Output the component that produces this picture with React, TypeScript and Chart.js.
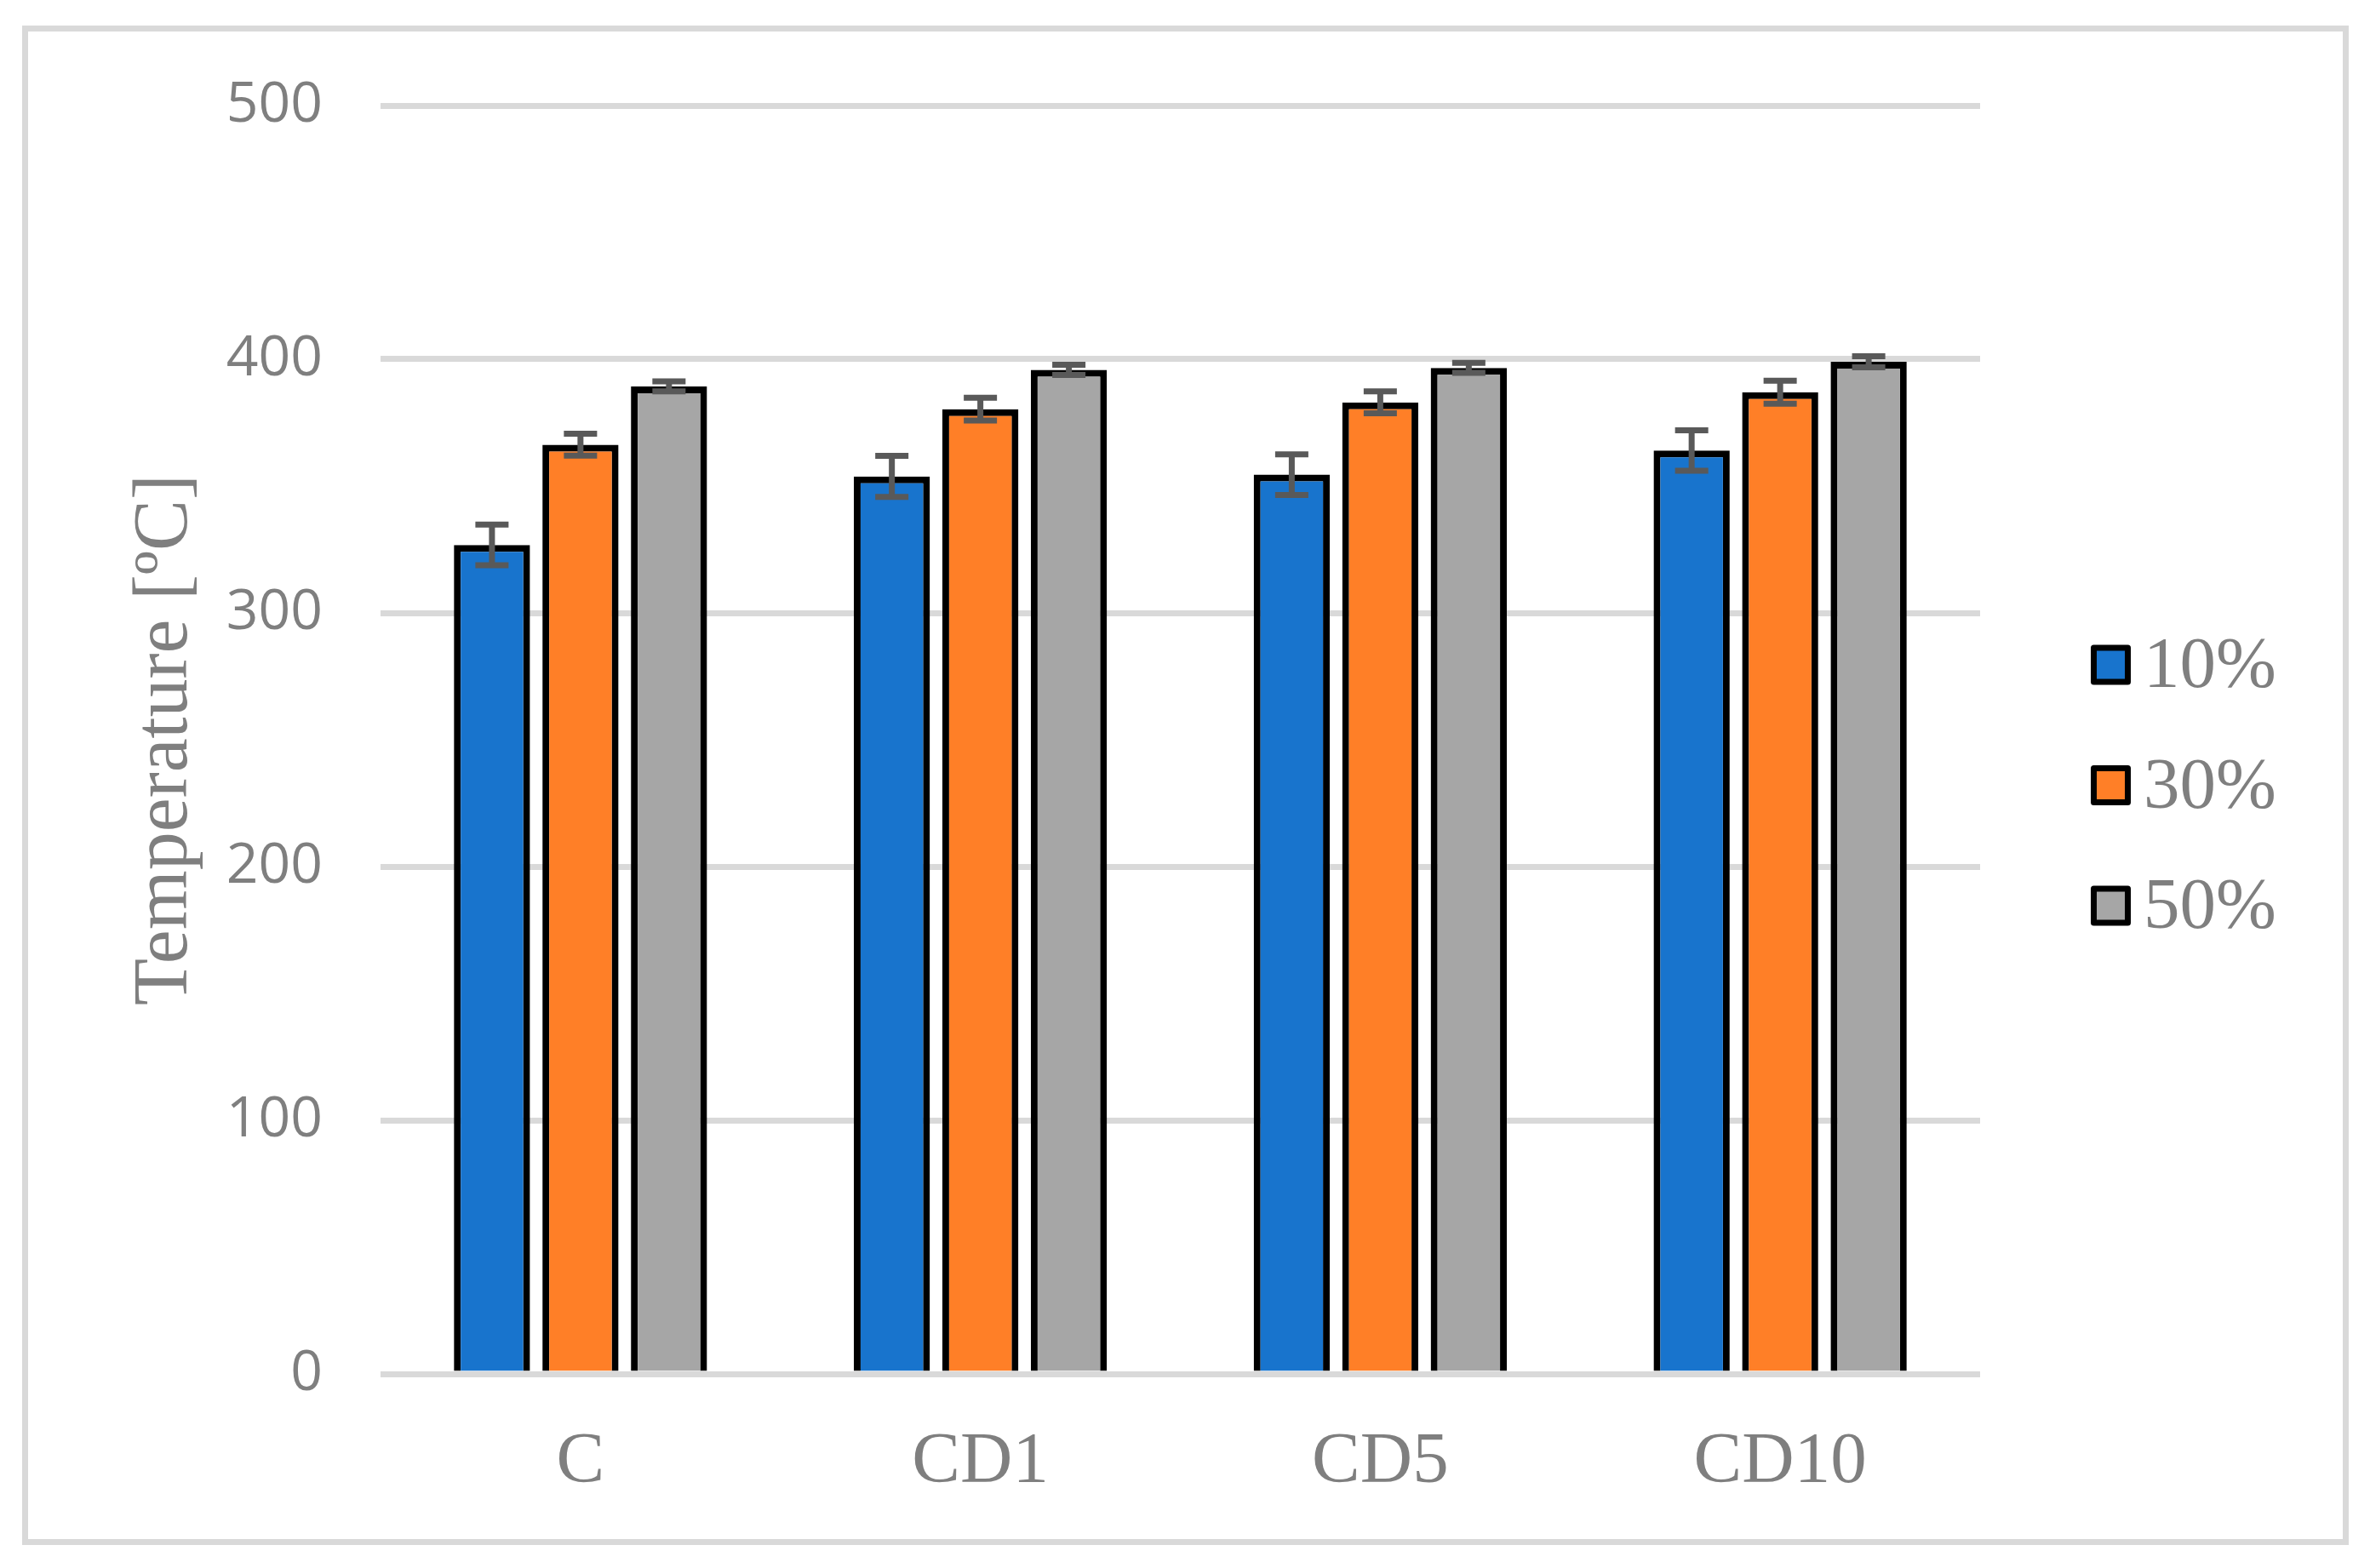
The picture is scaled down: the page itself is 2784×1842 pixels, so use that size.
import React, { useEffect, useRef } from 'react';
import { Chart, registerables } from 'chart.js';

Chart.register(...registerables);

const categories = ['C', 'CD1', 'CD5', 'CD10'];
const seriesLabels = ['10%', '30%', '50%'];
const values10 = [326.8, 353.8, 354.5, 364];
const values30 = [366.3, 380.3, 383, 387];
const values50 = [389.3, 395.8, 396.6, 399];
const errors10 = [8, 8.1, 8, 8];
const errors30 = [4.3, 4.5, 4.3, 4.5];
const errors50 = [2, 2, 2, 2.2];
const yTicks = [0, 100, 200, 300, 400, 500];
const seriesColors = ['#1874CD', '#FF7F27', '#A6A6A6'];

const GRAY_TEXT = '#7F7F7F';

const errorBarPlugin = {
  id: 'errorBars',
  afterDatasetsDraw(chart: any) {
    const ctx = chart.ctx;
    const yScale = chart.scales.y;
    chart.data.datasets.forEach((ds: any, i: number) => {
      const meta = chart.getDatasetMeta(i);
      meta.data.forEach((bar: any, j: number) => {
        const v = ds.data[j];
        const e = ds.errors[j];
        const top = yScale.getPixelForValue(v + e);
        const bot = yScale.getPixelForValue(v - e);
        const half = 19.5;
        ctx.save();
        ctx.strokeStyle = '#595959';
        ctx.lineWidth = 7;
        ctx.lineCap = 'butt';
        ctx.beginPath();
        ctx.moveTo(bar.x, top);
        ctx.lineTo(bar.x, bot);
        ctx.moveTo(bar.x - half, top);
        ctx.lineTo(bar.x + half, top);
        ctx.moveTo(bar.x - half, bot);
        ctx.lineTo(bar.x + half, bot);
        ctx.stroke();
        ctx.restore();
      });
    });
  },
};

const sideLegendPlugin = {
  id: 'sideLegend',
  afterDraw(chart: any) {
    const ctx = chart.ctx;
    const box = 40;
    const x0 = 2459.5;
    const y0 = 781;
    const step = 141.5;
    chart.data.datasets.forEach((ds: any, i: number) => {
      const cy = y0 + i * step;
      ctx.save();
      ctx.fillStyle = ds.backgroundColor;
      ctx.strokeStyle = '#000000';
      ctx.lineWidth = 7;
      ctx.lineJoin = 'round';
      ctx.beginPath();
      ctx.rect(x0, cy - box / 2, box, box);
      ctx.fill();
      ctx.stroke();
      ctx.fillStyle = GRAY_TEXT;
      ctx.font = '85px "Liberation Serif"';
      ctx.textBaseline = 'alphabetic';
      ctx.textAlign = 'left';
      ctx.fillText(ds.label, 2518, cy + 26);
      ctx.restore();
    });
  },
};

export default function App() {
  const ref = useRef<HTMLCanvasElement>(null);

  useEffect(() => {
    const canvas = ref.current;
    if (!canvas) return;
    const valueSets = [values10, values30, values50];
    const errorSets = [errors10, errors30, errors50];
    const chart = new Chart(canvas, {
      type: 'bar',
      data: {
        labels: categories,
        datasets: seriesLabels.map((label, i) => ({
          label,
          data: valueSets[i],
          errors: errorSets[i],
          backgroundColor: seriesColors[i],
          borderColor: '#000000',
          borderWidth: 8,
          barPercentage: 0.86,
          categoryPercentage: 0.664,
        })) as any,
      },
      options: {
        responsive: false,
        maintainAspectRatio: false,
        animation: false,
        devicePixelRatio: 1,
        layout: { padding: { top: 124, right: 458, bottom: 0, left: 0 } },
        plugins: {
          legend: { display: false },
          tooltip: { enabled: false },
        },
        scales: {
          x: {
            grid: { display: false },
            border: { display: false },
            ticks: {
              font: { family: '"Liberation Serif"', size: 85 },
              color: GRAY_TEXT,
              padding: 46,
            },
            afterFit: (s: any) => {
              s.height = 228;
            },
          },
          y: {
            min: 0,
            max: 500,
            afterBuildTicks: (s: any) => {
              s.ticks = yTicks.map((v) => ({ value: v }));
            },
            ticks: {
              font: { family: '"Open Sans"', size: 66 },
              color: GRAY_TEXT,
              padding: 68,
            },
            grid: { color: '#D9D9D9', lineWidth: 7, drawTicks: false },
            border: { display: false },
            title: {
              display: true,
              text: 'Temperature [ºC]',
              font: { family: '"Liberation Serif"', size: 90 },
              color: GRAY_TEXT,
              padding: { top: 141, bottom: 0 },
            },
            afterFit: (s: any) => {
              s.width = 447;
            },
          },
        },
      },
      plugins: [errorBarPlugin, sideLegendPlugin],
    });
    return () => chart.destroy();
  }, []);

  return (
    <div
      style={{
        position: 'fixed',
        left: 0,
        top: 0,
        width: 2784,
        height: 1842,
        background: '#FFFFFF',
      }}
    >
      <div
        style={{
          position: 'absolute',
          left: 26,
          top: 30,
          width: 2733,
          height: 1785,
          boxSizing: 'border-box',
          border: '7px solid #D9D9D9',
        }}
      />
      <canvas
        ref={ref}
        width={2784}
        height={1842}
        style={{ position: 'absolute', left: 0, top: 0, width: 2784, height: 1842 }}
      />
    </div>
  );
}
